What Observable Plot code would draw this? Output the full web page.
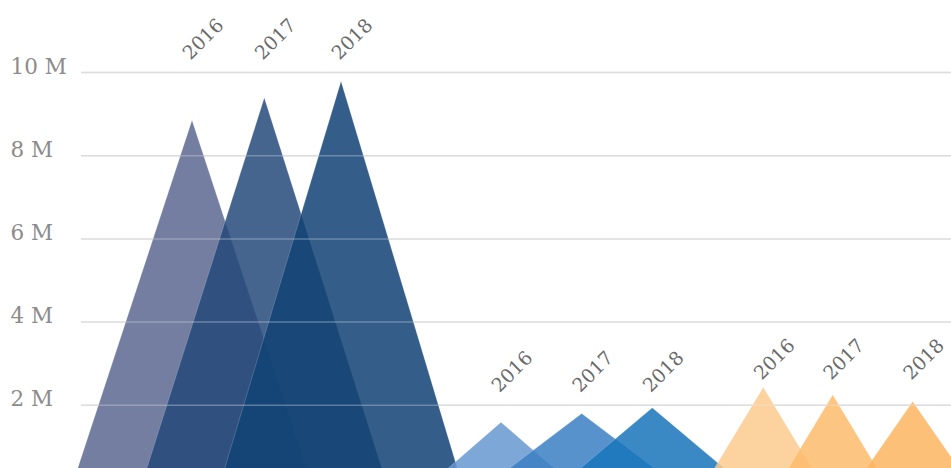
<!DOCTYPE html>
<html>
<head>
<meta charset="utf-8">
<script src="https://cdn.jsdelivr.net/npm/d3@7"></script>
<script src="https://cdn.jsdelivr.net/npm/@observablehq/plot@0.6"></script>
<style>
  html, body { margin: 0; padding: 0; background: #fff; overflow: hidden; }
  #chart svg { display: block; }
</style>
</head>
<body>
<div id="chart"></div>
<script>
// ---- data (values in millions) ----
const years = ["2016", "2017", "2018"];
const groups = ["A", "B", "C"];
const valuesA = [8.84, 9.38, 9.78];
const valuesB = [1.58, 1.79, 1.93];
const valuesC = [2.42, 2.24, 2.08];
// position of each peak along the x axis, and half-width of each base (x units)
const positionsA = [2.56, 3.524, 4.547];
const positionsB = [6.68, 7.756, 8.697];
const positionsC = [10.177, 11.103, 12.169];
const spreadA = [1.61, 1.65, 1.63];
const spreadB = [1.01, 1.31, 1.27];
const spreadC = [0.81, 0.75, 0.80];
const colorsA = ["#5b678f", "#24497a", "#104274"];
const colorsB = ["#6698cf", "#3b7fc3", "#1874bb"];
const colorsC = ["#fbca8d", "#fbbc6c", "#fbb560"];
const yTicks = [2, 4, 6, 8, 10];
const yTickLabels = ["2 M", "4 M", "6 M", "8 M", "10 M"];

const series = [
  {g: groups[0], values: valuesA, pos: positionsA, spread: spreadA, colors: colorsA, labelDy: -21},
  {g: groups[1], values: valuesB, pos: positionsB, spread: spreadB, colors: colorsB, labelDy: -15},
  {g: groups[2], values: valuesC, pos: positionsC, spread: spreadC, colors: colorsC, labelDy: -7}
];

const points = [];
const labels = [];
series.forEach(s => {
  const gmax = d3.max(s.values);
  years.forEach((yr, i) => {
    const key = s.g + yr;
    const c = s.pos[i], w = s.spread[i], v = s.values[i];
    points.push({key, x: c - w, y: 0, color: s.colors[i]});
    points.push({key, x: c, y: v, color: s.colors[i]});
    points.push({key, x: c + w, y: 0, color: s.colors[i]});
    labels.push({g: s.g, x: c, y: gmax, year: yr});
  });
});

const ticks = yTicks.map((t, i) => ({t, label: yTickLabels[i]}));
const font = "'DejaVu Serif', serif";

const labelMarks = series.map(s =>
  Plot.text(labels.filter(d => d.g === s.g), {
    x: "x", y: "y", text: "year", rotate: -45,
    textAnchor: "start", lineAnchor: "bottom",
    dx: -2, dy: s.labelDy, fill: "#6a6a6a", fontSize: 19, fontFamily: font
  })
);

const chart = Plot.plot({
  width: 951,
  height: 468,
  marginTop: 72,
  marginBottom: -20,
  marginLeft: 81,
  marginRight: 0,
  x: {domain: [1.08, 12.68], axis: null},
  y: {domain: [0, 10], axis: null},
  color: {type: "identity"},
  style: {background: "white", overflow: "hidden"},
  marks: [
    Plot.ruleY(ticks, {y: "t", stroke: "#cfcfcf", strokeWidth: 1.5}),
    Plot.areaY(points, {
      x: "x", y: "y", z: "key", fill: "color", fillOpacity: 0.85,
      stroke: "white", strokeOpacity: 0.3, strokeWidth: 0.6, curve: "linear"
    }),
    Plot.ruleY(ticks, {y: "t", stroke: "white", strokeOpacity: 0.3, strokeWidth: 1.5}),
    Plot.text(ticks, {
      y: "t", text: "label", frameAnchor: "left", dx: -71,
      textAnchor: "start", lineAnchor: "bottom", dy: 1,
      fill: "#8c8c8c", fontSize: 21.5, fontFamily: font
    }),
    ...labelMarks
  ]
});

document.getElementById("chart").append(chart);
</script>
</body>
</html>
